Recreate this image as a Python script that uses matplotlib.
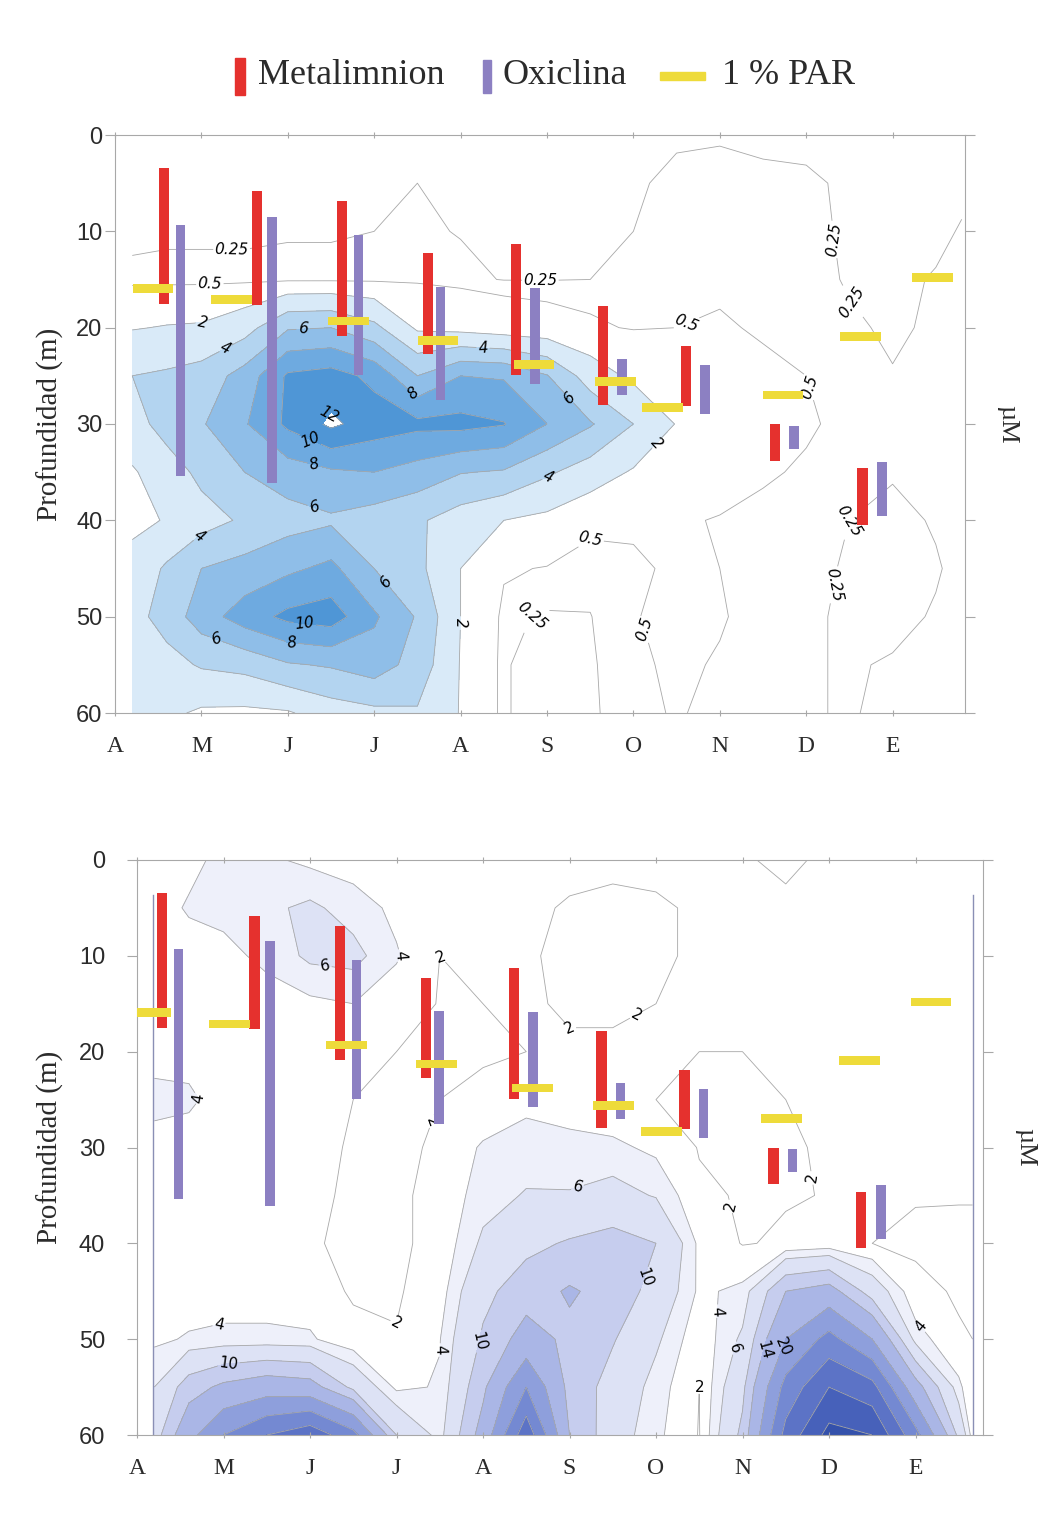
import numpy as np
import matplotlib.pyplot as plt
from matplotlib.patches import Rectangle

# months from 1 April (A) to January (E)
months = ["A", "M", "J", "J", "A", "S", "O", "N", "D", "E"]
depth_ticks = [0, 10, 20, 30, 40, 50, 60]

# metalimnion (red) and oxicline (purple) ranges, 1 % PAR depth (yellow)
meta_x = [0.57, 1.64, 2.63, 3.62, 4.64, 5.65, 6.61, 7.64, 8.65]
meta_top = [3.4, 5.8, 6.9, 12.3, 11.3, 17.8, 21.9, 30.0, 34.6]
meta_bot = [17.5, 17.6, 20.9, 22.7, 24.9, 28.0, 28.1, 33.8, 40.5]
oxi_x = [0.76, 1.82, 2.82, 3.77, 4.86, 5.87, 6.83, 7.86, 8.88]
oxi_top = [9.3, 8.5, 10.4, 15.8, 15.9, 23.3, 23.9, 30.2, 33.9]
oxi_bot = [35.4, 36.1, 24.9, 27.5, 25.8, 27.0, 29.0, 32.6, 39.5]
par_x = [0.44, 1.35, 2.70, 3.74, 4.85, 5.79, 6.34, 7.73, 8.63, 9.46]
par_d = [15.9, 17.1, 19.3, 21.3, 23.8, 25.6, 28.3, 27.0, 20.9, 14.8]

depths = [0, 5, 10, 15, 20, 25, 30, 35, 40, 45, 50, 55, 60]

# upper panel (uM), one row per sampling column
top_m = [0.2, 0.6, 1.0, 1.5, 2.0, 2.5, 3.0, 3.5, 4.0, 4.5, 5.0, 5.5, 6.0, 6.5,
         7.0, 7.5, 8.0, 8.5, 9.0, 9.5, 9.8]
top_val = [
    [0.2, 0.2, 0.2, 0.3, 1.9, 4.0, 3.2, 1.8, 1.6, 2.6, 3.3, 2.6, 2.3],
    [0.2, 0.2, 0.22, 0.3, 2.1, 4.3, 4.8, 3.0, 2.1, 4.3, 4.8, 3.3, 2.4],
    [0.2, 0.2, 0.22, 0.3, 2.2, 4.8, 5.8, 4.5, 3.2, 6.0, 7.0, 4.2, 1.7],
    [0.2, 0.2, 0.22, 0.3, 3.2, 6.8, 7.8, 6.0, 4.3, 6.7, 9.0, 4.6, 1.6],
    [0.2, 0.2, 0.22, 0.35, 5.8, 10.3, 10.4, 7.0, 5.2, 7.6, 10.5, 5.8, 1.8],
    [0.2, 0.2, 0.22, 0.35, 6.0, 10.8, 12.4, 7.7, 5.7, 8.5, 11.0, 6.2, 3.0],
    [0.2, 0.22, 0.25, 0.35, 4.5, 9.5, 11.0, 8.0, 5.0, 6.0, 8.3, 7.0, 3.5],
    [0.22, 0.25, 0.28, 0.4, 1.7, 6.0, 10.5, 7.2, 4.3, 4.5, 5.8, 5.2, 3.8],
    [0.2, 0.22, 0.24, 0.3, 1.4, 8.0, 10.6, 6.1, 3.0, 2.0, 2.0, 1.9, 1.9],
    [0.2, 0.2, 0.22, 0.24, 1.0, 7.8, 10.1, 5.8, 2.0, 0.6, 0.3, 0.26, 0.26],
    [0.2, 0.2, 0.22, 0.24, 0.8, 6.1, 8.0, 4.3, 1.5, 0.45, 0.22, 0.2, 0.2],
    [0.2, 0.2, 0.22, 0.25, 0.6, 3.0, 6.2, 3.0, 0.6, 0.35, 0.24, 0.22, 0.22],
    [0.2, 0.22, 0.25, 0.3, 0.45, 1.6, 4.0, 1.8, 0.55, 0.45, 0.48, 0.4, 0.35],
    [0.22, 0.3, 0.3, 0.38, 0.5, 1.0, 1.9, 1.5, 0.6, 0.55, 0.6, 0.6, 0.55],
    [0.22, 0.35, 0.38, 0.42, 0.55, 0.8, 1.2, 0.9, 0.45, 0.5, 0.55, 0.45, 0.35],
    [0.2, 0.3, 0.35, 0.4, 0.45, 0.6, 0.7, 0.55, 0.4, 0.35, 0.3, 0.3, 0.3],
    [0.2, 0.28, 0.3, 0.32, 0.38, 0.5, 0.55, 0.45, 0.35, 0.3, 0.26, 0.26, 0.26],
    [0.2, 0.22, 0.22, 0.23, 0.28, 0.4, 0.4, 0.3, 0.25, 0.23, 0.24, 0.24, 0.24],
    [0.2, 0.2, 0.2, 0.22, 0.22, 0.26, 0.28, 0.26, 0.22, 0.2, 0.22, 0.26, 0.28],
    [0.2, 0.21, 0.22, 0.26, 0.28, 0.3, 0.3, 0.28, 0.26, 0.24, 0.26, 0.28, 0.3],
    [0.2, 0.22, 0.26, 0.3, 0.3, 0.3, 0.3, 0.3, 0.28, 0.28, 0.28, 0.3, 0.3],
]

# lower panel (uM)
bot_m = [0.2, 0.6, 1.0, 1.5, 2.0, 2.5, 3.0, 3.5, 4.0, 4.5, 5.0, 5.5, 6.0, 6.5,
         7.0, 7.5, 8.0, 8.5, 9.0, 9.5, 9.66]
bot_val = [
    [3.0, 3.2, 3.0, 3.0, 3.5, 4.4, 3.5, 3.0, 3.0, 3.0, 3.6, 6.0, 8.0],
    [3.5, 4.2, 3.2, 3.0, 3.4, 4.3, 3.2, 3.0, 3.0, 3.0, 4.2, 12.0, 18.0],
    [4.5, 4.6, 3.4, 3.0, 3.1, 3.3, 3.0, 3.0, 2.9, 3.0, 4.5, 15.0, 26.0],
    [4.4, 5.5, 4.5, 3.1, 3.0, 3.0, 2.9, 2.8, 2.6, 3.0, 4.5, 17.0, 32.0],
    [3.5, 6.5, 6.5, 3.5, 2.8, 2.5, 2.3, 2.2, 2.1, 2.8, 4.3, 16.0, 36.0],
    [3.0, 5.0, 6.8, 4.0, 2.4, 2.0, 1.9, 1.85, 1.8, 1.8, 2.5, 9.0, 28.0],
    [2.5, 3.5, 4.2, 3.0, 2.0, 1.8, 1.7, 1.7, 1.7, 1.8, 2.1, 3.5, 10.0],
    [2.2, 2.5, 2.0, 1.9, 1.8, 2.0, 2.2, 2.5, 2.5, 3.0, 3.9, 4.2, 5.0],
    [2.2, 2.3, 2.1, 2.0, 1.9, 2.2, 4.3, 5.0, 6.5, 9.0, 10.5, 13.0, 16.0],
    [2.3, 2.2, 2.1, 2.1, 2.0, 3.5, 4.8, 6.2, 9.0, 12.0, 16.0, 26.0, 36.0],
    [2.3, 1.9, 1.8, 1.9, 2.1, 3.2, 4.5, 6.2, 10.4, 14.5, 13.0, 12.5, 14.0],
    [2.2, 1.8, 1.7, 1.9, 2.1, 2.3, 4.5, 7.0, 11.5, 12.5, 10.3, 8.5, 7.5],
    [2.2, 1.9, 1.9, 2.0, 2.1, 2.0, 3.5, 5.8, 10.0, 8.5, 6.5, 5.0, 4.5],
    [2.2, 2.1, 2.1, 2.1, 2.0, 1.8, 1.9, 2.3, 3.5, 3.6, 2.5, 2.0, 1.9],
    [2.1, 2.2, 2.2, 2.2, 2.0, 1.9, 1.9, 1.85, 1.9, 4.5, 6.5, 9.0, 11.0],
    [1.8, 2.2, 2.3, 2.3, 2.1, 2.0, 1.9, 1.9, 2.2, 14.0, 20.0, 28.0, 34.0],
    [2.2, 2.3, 2.4, 2.4, 2.3, 2.2, 2.1, 2.05, 2.6, 16.0, 28.0, 38.0, 46.0],
    [2.3, 2.4, 2.4, 2.4, 2.4, 2.3, 2.2, 2.1, 2.0, 8.0, 20.0, 34.0, 44.0],
    [2.3, 2.4, 2.4, 2.4, 2.4, 2.3, 2.2, 2.1, 1.7, 2.5, 5.0, 16.0, 28.0],
    [2.3, 2.3, 2.3, 2.3, 2.3, 2.3, 2.2, 2.1, 1.6, 1.8, 2.2, 4.5, 9.0],
    [2.3, 2.3, 2.3, 2.3, 2.3, 2.3, 2.2, 2.1, 1.6, 1.7, 2.0, 2.5, 3.0],
]

top_lines = [0.25, 0.5, 2, 4, 6, 8, 10, 12]
top_fill = [2, 4, 6, 8, 10, 12]
top_colors = ["#d9eaf8", "#b3d4f0", "#8fbee8", "#6eaae0", "#4f96d6"]
bot_lines = [2, 4, 6, 10, 14, 20, 26, 32, 38, 44]
bot_fill = [4, 6, 10, 14, 20, 26, 32, 38, 44, 60]
bot_colors = ["#eef0fa", "#dde2f5", "#c6cdee", "#aab6e6", "#8e9fdc",
              "#7489d2", "#5c73c6", "#4761ba", "#3451ab"]

# contour labels: (month, depth, level)
top_labels = [(1.35, 13.5, 0.25), (1.1, 15.9, 0.5), (1.0, 19.2, 2), (1.27, 22, 4),
              (2.18, 20.7, 6), (3.45, 26.8, 8), (2.29, 27.8, 12), (2.23, 32.3, 10),
              (2.29, 34.8, 8), (2.34, 37.6, 6), (4.26, 22, 4), (4.92, 19, 0.25),
              (5.23, 27.5, 6), (5.03, 35.8, 4), (6.5, 34, 2), (6.6, 19.2, 0.5),
              (5.5, 41, 0.5), (4.8, 49.3, 0.25), (4.13, 50.7, 2), (6.1, 51.4, 0.5),
              (0.98, 41.7, 4), (3.12, 46.5, 6), (1.18, 52, 6), (2.05, 52.4, 8),
              (2.2, 50.5, 10), (8.28, 10.9, 0.25), (8.56, 17.1, 0.25),
              (8.08, 26, 0.5), (8.45, 40, 0.25), (8.6, 47.2, 0.25)]
bot_labels = [(2.2, 9.2, 6), (3.19, 9.7, 4), (3.54, 9.9, 2), (5.47, 11, 2),
              (4.89, 19.1, 2), (0.98, 23.2, 4), (3.47, 27.5, 2), (5.12, 35, 6),
              (6.5, 37, 2), (7.99, 32.9, 2), (5.93, 43.8, 10), (6.57, 47, 4),
              (0.98, 49.8, 4), (1.06, 52.7, 10), (2.9, 51.4, 2), (3.41, 51.1, 4),
              (3.9, 50.1, 10), (6.7, 52.2, 2), (6.97, 51.1, 6), (7.24, 51.1, 14),
              (7.55, 51.1, 20), (8.82, 50.6, 4)]

bar_shift_bottom = 0.28   # lower panel is offset against its month ticks

red = "#e5312e"
purple = "#8c80c2"
yellow = "#eedb3a"
grey = "#a8a8a8"
ink = "#2b2b2b"
serif = "Liberation Serif"
sans = "Liberation Sans"
W, H = 1047, 1527


def draw_panel(ax, gm, gval, fills, colors, lines, labels, shift, xmax, style):
    M, D = np.meshgrid(gm, depths)
    Z = np.array(gval).T
    ax.contourf(M, D, Z, levels=fills, colors=colors)
    # one contour set per level so each can be labelled by hand
    for lvl in lines:
        cs = ax.contour(M, D, Z, levels=[lvl], colors=grey, linewidths=0.6)
        pts = [(m, d) for m, d, l in labels if l == lvl]
        if pts:
            txt = ax.clabel(cs, manual=pts, inline=True, inline_spacing=2,
                            fmt=lambda v: f"{v:g}", fontsize=11, colors="black")
            for t in txt:
                t.set_fontstyle(style)

    xs = np.array(meta_x) - shift
    ax.bar(xs, np.array(meta_bot) - np.array(meta_top), bottom=meta_top,
           width=0.12, color=red, zorder=5)
    xs = np.array(oxi_x) - shift
    ax.bar(xs, np.array(oxi_bot) - np.array(oxi_top), bottom=oxi_top,
           width=0.11, color=purple, zorder=5)
    xs = np.array(par_x) - shift
    ax.bar(xs, 0.9, bottom=np.array(par_d) - 0.45, width=0.47,
           color=yellow, zorder=6)

    ax.set_xlim(0, xmax)
    ax.set_ylim(60, 0)
    ax.set_xticks(range(len(months)))
    ax.set_xticklabels(months, fontfamily=serif, fontsize=17, color=ink)
    ax.set_yticks(depth_ticks)
    ax.set_yticklabels([str(v) for v in depth_ticks], fontfamily=sans,
                       fontsize=17, color=ink)
    ax.tick_params(axis="x", length=5, color=grey, pad=14, top=True, direction="inout")
    ax.tick_params(axis="y", length=7, color=grey, right=True)
    for s in ax.spines.values():
        s.set_color(grey)
        s.set_linewidth(0.8)
    ax.set_ylabel("Profundidad (m)", fontfamily=serif, fontsize=21, color=ink)
    ax.text(1.05, 0.5, "\u00b5M", transform=ax.transAxes, rotation=-90,
            va="center", ha="center", fontfamily=serif, fontsize=19, color=ink)


fig = plt.figure(figsize=(W / 100, H / 100), dpi=100)

ax1 = fig.add_axes([115 / W, 1 - 713 / H, 850 / W, 578 / H])
draw_panel(ax1, top_m, top_val, top_fill, top_colors, top_lines, top_labels,
           0.0, 850 / 86.4, "italic")
ax1.tick_params(axis="y", pad=2)
ax1.yaxis.set_label_coords(-0.06, 0.5)

ax2 = fig.add_axes([137 / W, 1 - 1435 / H, 846 / W, 575 / H])
draw_panel(ax2, bot_m, bot_val, bot_fill, bot_colors, bot_lines, bot_labels,
           bar_shift_bottom, 846 / 86.5, "normal")
ax2.tick_params(axis="y", pad=16)
ax2.yaxis.set_label_coords(-0.086, 0.5)
# outline of the sampled region
for xb in (bot_m[0] - 0.02, bot_m[-1]):
    ax2.axvline(xb, ymin=0, ymax=0.94, color="#8a8fb5", lw=1.0, zorder=4)

# legend drawn by hand so the handles sit like in the original
legend_items = [("Metalimnion", red, (235, 58, 10, 37), 258),
                ("Oxiclina", purple, (483, 60, 8, 33), 503),
                ("1 % PAR", yellow, (660, 72, 45, 8), 722)]
for label, col, (x, y, w, h), tx in legend_items:
    fig.add_artist(Rectangle((x / W, 1 - (y + h) / H), w / W, h / H,
                             transform=fig.transFigure, color=col))
    fig.text(tx / W, 1 - 76 / H, label, fontfamily=serif, fontsize=26,
             color=ink, va="center", ha="left")

fig.savefig("out.png", dpi=100)
